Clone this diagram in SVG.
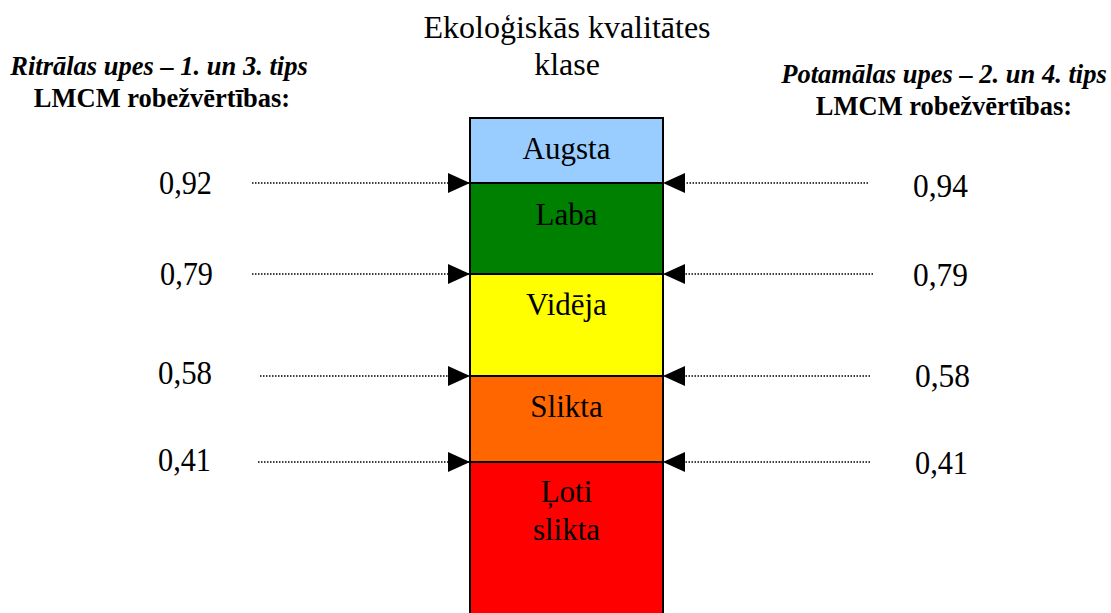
<svg xmlns="http://www.w3.org/2000/svg" width="1111" height="613" viewBox="0 0 1111 613">
<defs>
<style>
.t{font-family:"Liberation Serif","Times New Roman",serif;font-size:31px;fill:#000}
.ti{font-size:32px}
.n{font-family:"Liberation Serif","Times New Roman",serif;font-size:33px;fill:#000}
.h{font-family:"Liberation Serif","Times New Roman",serif;font-size:26.5px;font-weight:bold;fill:#000}
.hi{font-style:italic}
.band{stroke:#000;stroke-width:2}
.dot{stroke:#000;stroke-width:1.3;stroke-dasharray:1.5 1.5;fill:none}
</style>
<marker id="ah" viewBox="0 0 22 20" refX="22" refY="10" markerWidth="22" markerHeight="20" markerUnits="userSpaceOnUse" orient="auto">
<path d="M0,0 L22,10 L0,20 Z" fill="#000"/>
</marker>
</defs>
<rect width="1111" height="613" fill="#fff"/>
<g id="title">
<text class="t ti" x="567" y="38" text-anchor="middle">Ekoloģiskās kvalitātes</text>
<text class="t ti" x="567" y="75" text-anchor="middle">klase</text>
</g>
<g id="left-header">
<text class="h hi" x="159" y="75" text-anchor="middle">Ritrālas upes – 1. un 3. tips</text>
<text class="h" x="162" y="107" text-anchor="middle">LMCM robežvērtības:</text>
</g>
<g id="right-header">
<text class="h hi" x="944" y="83" text-anchor="middle">Potamālas upes – 2. un 4. tips</text>
<text class="h" x="944" y="115" text-anchor="middle">LMCM robežvērtības:</text>
</g>
<g id="augsta">
<rect class="band" x="470" y="118" width="193" height="65" fill="#99CCFF"/>
<text class="t" x="566.5" y="159" text-anchor="middle">Augsta</text>
</g>
<g id="laba">
<rect class="band" x="470" y="183" width="193" height="91" fill="#008000"/>
<text class="t" x="566.5" y="225" text-anchor="middle">Laba</text>
</g>
<g id="videja">
<rect class="band" x="470" y="274" width="193" height="102" fill="#FFFF00"/>
<text class="t" x="566.5" y="315" text-anchor="middle">Vidēja</text>
</g>
<g id="slikta">
<rect class="band" x="470" y="376" width="193" height="86" fill="#FF6600"/>
<text class="t" x="566.5" y="417" text-anchor="middle">Slikta</text>
</g>
<g id="loti-slikta">
<rect class="band" x="470" y="462" width="193" height="170" fill="#FF0000"/>
<text class="t" x="566.5" y="502" text-anchor="middle">Ļoti</text>
<text class="t" x="566.5" y="540" text-anchor="middle">slikta</text>
</g>
<g id="values-left">
<text class="n" x="159" y="194" textLength="53" lengthAdjust="spacingAndGlyphs">0,92</text>
<text class="n" x="160" y="285" textLength="53" lengthAdjust="spacingAndGlyphs">0,79</text>
<text class="n" x="158" y="384" textLength="54" lengthAdjust="spacingAndGlyphs">0,58</text>
<text class="n" x="158" y="471" textLength="53" lengthAdjust="spacingAndGlyphs">0,41</text>
</g>
<g id="values-right">
<text class="n" x="913" y="197" textLength="55" lengthAdjust="spacingAndGlyphs">0,94</text>
<text class="n" x="913" y="286" textLength="55" lengthAdjust="spacingAndGlyphs">0,79</text>
<text class="n" x="915" y="387" textLength="55" lengthAdjust="spacingAndGlyphs">0,58</text>
<text class="n" x="915" y="474" textLength="53" lengthAdjust="spacingAndGlyphs">0,41</text>
</g>
<g id="connectors">
<line class="dot" x1="252" y1="183" x2="470" y2="183" marker-end="url(#ah)"/>
<line class="dot" x1="252" y1="274" x2="470" y2="274" marker-end="url(#ah)"/>
<line class="dot" x1="260" y1="376" x2="470" y2="376" marker-end="url(#ah)"/>
<line class="dot" x1="258" y1="462" x2="470" y2="462" marker-end="url(#ah)"/>
<line class="dot" x1="868" y1="183" x2="663" y2="183" marker-end="url(#ah)"/>
<line class="dot" x1="873" y1="274" x2="663" y2="274" marker-end="url(#ah)"/>
<line class="dot" x1="870" y1="376" x2="663" y2="376" marker-end="url(#ah)"/>
<line class="dot" x1="870" y1="462" x2="663" y2="462" marker-end="url(#ah)"/>
</g>
</svg>
